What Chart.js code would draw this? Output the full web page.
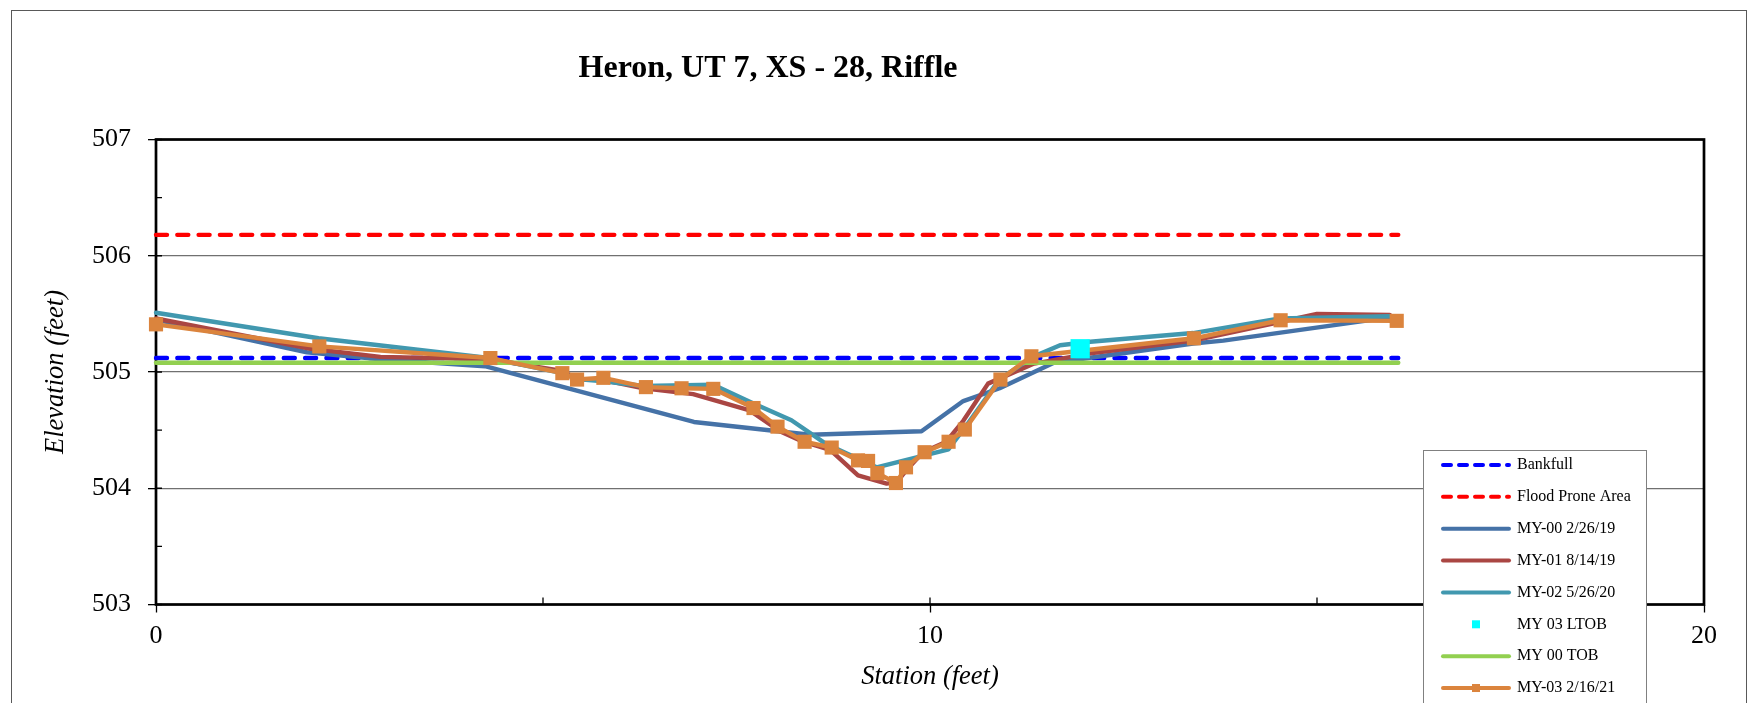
<!DOCTYPE html>
<html>
<head>
<title>Heron, UT 7, XS - 28, Riffle</title>
<style>
  body { margin: 0; background: #fff; }
  #wrap { width: 1756px; height: 703px; position: relative; }
</style>
</head>
<body>
<div id="wrap"><canvas id="xsChart"></canvas></div>
<script src="https://cdn.jsdelivr.net/npm/chart.js@4.4.1/dist/chart.umd.min.js"></script>
<script>
// cross section survey, station (ft) vs elevation (ft)
const chartTitle = 'Heron, UT 7, XS - 28, Riffle';
const xTickLabels = [0, 10, 20];
const yTickLabels = [503, 504, 505, 506, 507];

const bankfullStation = [0, 16.05];
const bankfullElev = [505.12, 505.12];
const floodProneStation = [0, 16.05];
const floodProneElev = [506.18, 506.18];
const my00Station = [0, 1.95, 2.9, 4.25, 6.95, 8.45, 9.89, 10.43, 10.9, 11.6, 13.4, 13.79, 15.94];
const my00Elev = [505.45, 505.17, 505.11, 505.05, 504.57, 504.46, 504.49, 504.75, 504.86, 505.08, 505.245, 505.27, 505.47];
const my01Station = [0, 2.0, 2.9, 4.3, 5.25, 5.44, 5.78, 6.3, 6.94, 7.67, 8.06, 8.36, 8.71, 9.07, 9.44, 9.57, 9.7, 9.91, 10.21, 10.43, 10.75, 11.33, 12.07, 13.4, 14.52, 15.0, 15.94];
const my01Elev = [505.46, 505.2, 505.13, 505.11, 505.01, 504.94, 504.93, 504.86, 504.81, 504.67, 504.49, 504.4, 504.33, 504.11, 504.04, 504.05, 504.16, 504.31, 504.4, 504.58, 504.9, 505.07, 505.16, 505.27, 505.43, 505.5, 505.49];
const my02Station = [0, 2.1, 4.3, 5.25, 5.44, 5.78, 6.3, 7.2, 7.72, 8.21, 8.66, 9.31, 10.24, 10.47, 10.9, 11.33, 11.68, 12.07, 13.4, 14.52, 15.94];
const my02Elev = [505.51, 505.29, 505.12, 504.99, 504.94, 504.92, 504.88, 504.89, 504.73, 504.585, 504.38, 504.18, 504.335, 504.54, 504.94, 505.13, 505.23, 505.26, 505.335, 505.46, 505.48];
const ltobStation = [11.94];
const ltobElev = [505.2];
const tobStation = [0, 16.05];
const tobElev = [505.08, 505.08];
const my03Station = [0, 2.11, 4.32, 5.25, 5.44, 5.78, 6.33, 6.79, 7.2, 7.72, 8.03, 8.38, 8.73, 9.07, 9.2, 9.32, 9.56, 9.69, 9.93, 10.24, 10.45, 10.91, 11.31, 13.41, 14.53, 16.03];
const my03Elev = [505.41, 505.22, 505.12, 504.99, 504.935, 504.95, 504.87, 504.86, 504.855, 504.69, 504.53, 504.4, 504.35, 504.24, 504.235, 504.13, 504.045, 504.18, 504.31, 504.4, 504.505, 504.935, 505.135, 505.29, 505.445, 505.44];

function pts(xs, ys) {
  return xs.map(function(x, i) { return {x: x, y: ys[i]}; });
}

const serif = '"Liberation Serif", "Times New Roman", serif';
Chart.defaults.font.family = serif;
Chart.defaults.color = '#000';

function lineSet(label, xs, ys, color, dash) {
  return {
    label: label, data: pts(xs, ys),
    borderColor: color, backgroundColor: color,
    borderWidth: 4.4, borderDash: dash || [],
    borderCapStyle: 'round', borderJoinStyle: 'round',
    pointRadius: 0, tension: 0, clip: false
  };
}

const datasets = [
  lineSet('Bankfull', bankfullStation, bankfullElev, '#0000FF', [11, 10.3]),
  lineSet('Flood Prone Area', floodProneStation, floodProneElev, '#FF0000', [11, 10.3]),
  lineSet('MY-00 2/26/19', my00Station, my00Elev, '#4572A7'),
  lineSet('MY-01 8/14/19', my01Station, my01Elev, '#AA4643'),
  lineSet('MY-02 5/26/20', my02Station, my02Elev, '#4198AF'),
  {
    label: 'MY 03 LTOB', data: pts(ltobStation, ltobElev), showLine: false,
    pointStyle: 'rect', pointRadius: 13.6, pointBorderWidth: 0,
    pointBackgroundColor: '#00FFFF', borderColor: '#00FFFF', clip: false
  },
  lineSet('MY 00 TOB', tobStation, tobElev, '#92D050'),
  Object.assign(lineSet('MY-03 2/16/21', my03Station, my03Elev, '#DB843D'), {
    pointStyle: 'rect', pointRadius: 10, pointBorderWidth: 0, pointBackgroundColor: '#DB843D'
  })
];
// later series on top, like the spreadsheet; LTOB marker above everything
datasets.forEach(function(ds, i) { ds.order = datasets.length - i; });
datasets[5].order = 0;

// title, plot frame, inside tick marks, outer border and boxed legend
const decor = {
  id: 'decor',
  beforeDatasetsDraw(chart) {
    const ctx = chart.ctx, a = chart.chartArea;
    const xs = chart.scales.x, ys = chart.scales.y;
    ctx.save();
    ctx.strokeStyle = '#000';
    ctx.lineWidth = 1.3;
    ctx.beginPath();
    xs.ticks.forEach(function(t) {
      const px = xs.getPixelForValue(t.value);
      ctx.moveTo(px, a.bottom); ctx.lineTo(px, a.bottom - 7);
    });
    ys.ticks.forEach(function(t) {
      const py = ys.getPixelForValue(t.value);
      ctx.moveTo(a.left, py); ctx.lineTo(a.left + 6, py);
    });
    ctx.stroke();
    ctx.lineWidth = 2.7;
    ctx.strokeRect(a.left, a.top, a.right - a.left, a.bottom - a.top);
    ctx.restore();
  },
  afterDraw(chart) {
    const ctx = chart.ctx;
    ctx.save();
    ctx.font = 'bold 32px ' + serif;
    ctx.fillStyle = '#000';
    ctx.textAlign = 'center';
    ctx.textBaseline = 'alphabetic';
    ctx.fillText(chartTitle, 768, 77);

    ctx.strokeStyle = '#595959';
    ctx.lineWidth = 1;
    ctx.strokeRect(11.5, 10.5, 1735, 720);

    const left = 1423, top = 450, w = 223, rowH = 31.86;
    ctx.fillStyle = '#fff';
    ctx.fillRect(left, top, w, 300);
    ctx.strokeStyle = '#808080';
    ctx.strokeRect(left + 0.5, top + 0.5, w, 300);
    ctx.font = '16px ' + serif;
    ctx.textBaseline = 'middle';
    ctx.textAlign = 'left';
    chart.data.datasets.forEach(function(ds, i) {
      const cy = top + 15 + i * rowH;
      const x0 = left + 20, x1 = left + 86, cx = (x0 + x1) / 2;
      if (ds.showLine !== false) {
        ctx.strokeStyle = ds.borderColor;
        ctx.lineWidth = 4;
        ctx.lineCap = 'round';
        ctx.setLineDash(ds.borderDash && ds.borderDash.length ? [8, 8] : []);
        ctx.beginPath(); ctx.moveTo(x0, cy); ctx.lineTo(x1, cy); ctx.stroke();
        ctx.setLineDash([]);
      }
      if (ds.pointRadius > 0) {
        ctx.fillStyle = ds.pointBackgroundColor;
        ctx.fillRect(cx - 4, cy - 4, 8, 8);
      }
      ctx.fillStyle = '#000';
      ctx.fillText(ds.label, left + 94, cy);
    });
    ctx.restore();
  }
};

new Chart(document.getElementById('xsChart'), {
  type: 'line',
  data: { datasets: datasets },
  plugins: [decor],
  options: {
    responsive: true,
    maintainAspectRatio: false,
    animation: false,
    layout: { padding: { top: 139.5, right: 52, left: 0, bottom: 0 } },
    plugins: { legend: { display: false }, tooltip: { enabled: false } },
    scales: {
      x: {
        type: 'linear', min: 0, max: 20,
        ticks: {
          stepSize: 5, padding: 8.4, maxRotation: 0, autoSkip: false,
          font: { size: 26 },
          callback: function(v) { return xTickLabels.includes(v) ? String(v) : ''; }
        },
        grid: {
          drawOnChartArea: false, tickLength: 8, tickWidth: 1.3,
          tickColor: function(c) { return xTickLabels.includes(c.tick.value) ? '#000' : 'transparent'; }
        },
        border: { display: false },
        title: {
          display: true, text: 'Station (feet)',
          font: { size: 26.5, style: 'italic' },
          padding: { top: 0, bottom: 10 }
        },
        afterFit: function(s) { s.height = 98.5; }
      },
      y: {
        type: 'linear', min: 503, max: 507,
        ticks: {
          stepSize: 0.5, padding: 17, font: { size: 26 },
          callback: function(v) { return yTickLabels.includes(v) ? String(v) : ''; }
        },
        grid: {
          lineWidth: 1.3, tickLength: 8, tickWidth: 1.3,
          color: function(c) { return yTickLabels.includes(c.tick.value) ? '#707070' : 'transparent'; },
          tickColor: function(c) { return yTickLabels.includes(c.tick.value) ? '#000' : 'transparent'; }
        },
        border: { display: false },
        title: {
          display: true, text: 'Elevation (feet)',
          font: { size: 26.5, style: 'italic' },
          padding: { top: 40, bottom: 0 }
        },
        afterFit: function(s) { s.width = 156; }
      }
    }
  }
});
</script>
</body>
</html>
